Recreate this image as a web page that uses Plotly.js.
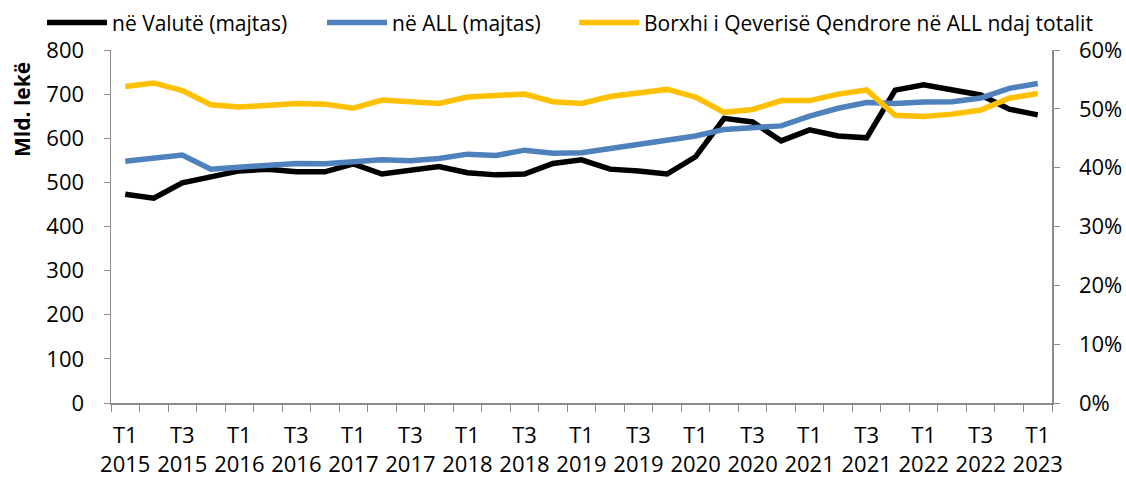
<!DOCTYPE html>
<html>
<head>
<meta charset="utf-8">
<script src="https://cdn.plot.ly/plotly-3.0.1.min.js"></script>
<style>html,body{margin:0;padding:0;background:#fff;}#chart{width:1126px;height:479px;}</style>
</head>
<body>
<div id="chart"></div>
<script>
const quarters = ["T1 2015","T2 2015","T3 2015","T4 2015","T1 2016","T2 2016","T3 2016","T4 2016",
  "T1 2017","T2 2017","T3 2017","T4 2017","T1 2018","T2 2018","T3 2018","T4 2018",
  "T1 2019","T2 2019","T3 2019","T4 2019","T1 2020","T2 2020","T3 2020","T4 2020",
  "T1 2021","T2 2021","T3 2021","T4 2021","T1 2022","T2 2022","T3 2022","T4 2022","T1 2023"];
const valute = [473,464,499,514,526,530,524,524,542,519,528,536,522,517,519,543,
  551,530,526,519,558,645,637,594,619,605,601,709,721,711,698,666,653];
const all = [548,554,562,530,534,541,543,542,547,551,549,554,564,561,573,566,
  567,577,587,594,605,620,625,628,650,668,681,679,682,683,691,713,724];
const shareAll = [53.8,54.4,53.1,50.7,50.3,50.6,50.9,50.8,50.1,51.5,51.1,50.9,52.0,52.2,52.5,51.2,
  50.9,52.1,52.7,53.3,52.0,49.4,49.9,51.4,51.4,52.5,53.2,48.9,48.7,49.1,49.8,51.8,52.6];
const seriesNames = ["në Valutë (majtas)","në ALL (majtas)","Borxhi i Qeverisë Qendrore në ALL ndaj totalit"];
const yTitle = "Mld. lekë";

const idx = quarters.map((q,i)=>i);
const tickIdx = idx.filter(i=>i%2===0);
const tickText = tickIdx.map(i=>quarters[i].replace(" ","<br>"));

const FONT = "Open Sans, Liberation Sans, Arial, sans-serif";
const AX = "#8c8c8c";

const traces = [
  {x: idx, y: valute, name: seriesNames[0], type:"scatter", mode:"lines",
   line:{color:"#000000", width:5.5}, legend:"legend"},
  {x: idx, y: all, name: seriesNames[1], type:"scatter", mode:"lines",
   line:{color:"#4F81BD", width:5.5}, legend:"legend2"},
  {x: idx, y: shareAll.map(v=>v/100), name: seriesNames[2], type:"scatter", mode:"lines",
   line:{color:"#FFC000", width:5.5}, yaxis:"y2", legend:"legend3"}
];

const legBase = {orientation:"h", xref:"container", yref:"container", y:0.995, yanchor:"top",
  xanchor:"left", font:{family:FONT, size:21, color:"#000"}, bgcolor:"rgba(0,0,0,0)", itemwidth:60};

const layout = {
  width:1126, height:479,
  margin:{l:111, r:74, t:50, b:76},
  paper_bgcolor:"#fff", plot_bgcolor:"#fff",
  font:{family:FONT, size:22, color:"#000"},
  showlegend:true,
  legend: Object.assign({}, legBase, {x:42/1126}),
  legend2: Object.assign({}, legBase, {x:322/1126}),
  legend3: Object.assign({}, legBase, {x:574/1126}),
  xaxis:{range:[-0.5,32.5], tickvals:tickIdx, ticktext:tickText, ticks:"", showgrid:false,
    zeroline:false, showline:true, linecolor:AX, linewidth:1.5, tickfont:{size:22},
    ticklabelstandoff:12,
    minor:{tick0:-0.5, dtick:1, ticks:"outside", ticklen:7, tickcolor:AX, showgrid:false}},
  yaxis:{range:[0,800], dtick:100, ticks:"outside", ticklen:6, tickcolor:AX, showgrid:false,
    zeroline:false, showline:true, linecolor:AX, linewidth:1.5, tickfont:{size:22},
    ticklabelstandoff:15},
  yaxis2:{range:[0,0.6], dtick:0.1, tickformat:".0%", overlaying:"y", side:"right",
    ticks:"outside", ticklen:6, tickcolor:AX, showgrid:false, zeroline:false,
    showline:true, linecolor:AX, linewidth:1.5, tickfont:{size:22}, ticklabelstandoff:15},
  annotations:[{text:"<b>"+yTitle+"</b>", xref:"paper", yref:"paper", x:(22-111)/941, y:0.83,
    xanchor:"center", yanchor:"middle",
    textangle:-90, showarrow:false, font:{family:FONT, size:21, color:"#000"}}]
};

Plotly.newPlot("chart", traces, layout, {displayModeBar:false, staticPlot:true});
</script>
</body>
</html>
